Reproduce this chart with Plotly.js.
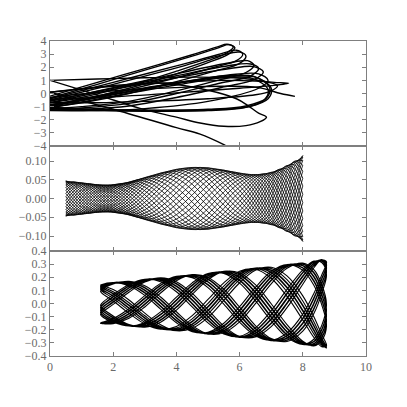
<!DOCTYPE html>
<html>
<head>
<meta charset="utf-8">
<script src="https://cdn.plot.ly/plotly-3.0.1.min.js"></script>
<style>body{margin:0;background:#fff}</style>
</head>
<body>
<div id="plot" style="width:407px;height:407px"></div>
<script>
// top panel: loops, one x list and one y list per loop
const topLoopX = [
    [0, 1.5, 3, 4.5, 5.3, 5.6, 5.8, 5.6, 5, 4, 2.5, 1, 0],
    [0, 1.5, 3, 4.5, 5.35, 5.65, 5.85, 5.65, 5, 4, 2.5, 1, 0],
    [0, 2, 4, 5.3, 5.9, 6.1, 5.9, 5.2, 4, 2.5, 1, 0],
    [0, 2, 4, 5.4, 6.0, 6.2, 6.0, 5.2, 4, 2.5, 1, 0],
    [0, 2, 4, 5.6, 6.25, 6.45, 6.2, 5.3, 4, 2.5, 1, 0],
    [0, 2, 4, 5.6, 6.35, 6.6, 6.35, 5.4, 4, 2.5, 1, 0],
    [0, 2, 4, 5.7, 6.45, 6.75, 6.45, 5.5, 4, 2.5, 1, 0],
    [0, 2, 4, 5.8, 6.6, 6.9, 6.6, 5, 3, 1.5, 0],
    [0, 2, 4, 5.6, 6.5, 7.0, 6.9, 6.3, 5, 3, 1.5, 0],
    [0, 2, 4, 5.6, 6.45, 6.95, 6.85, 6.2, 5, 3, 1.5, 0],
    [0, 2, 4, 5.5, 6.4, 6.9, 6.8, 6.2, 5, 3, 1.5, 0],
    [0, 2, 4, 5.5, 6.5, 7.1, 7.55, 7.0, 6.0, 4, 2, 0],
    [0, 1.5, 3, 4.5, 5.8, 6.6, 7.2, 7.0, 6.5, 5, 3, 1.5, 0],
    [0, 1.5, 2.85, 4.0, 4.75, 5.5, 6.2, 6.65, 6.85, 6.6, 6.25, 5.9, 5.0, 3.5, 2, 0],
    [0, 2, 4, 4.75, 5.55],
    [0, 2, 4, 5.5, 6.6, 7.3, 7.75]
]
const topLoopY = [
    [-0.2, 0.85, 1.9, 2.95, 3.55, 3.75, 3.55, 3.1, 2.5, 1.7, 0.6, -0.3, -0.7],
    [-0.35, 0.7, 1.78, 2.85, 3.5, 3.72, 3.5, 3.0, 2.35, 1.5, 0.4, -0.45, -0.85],
    [-0.4, 0.85, 2.1, 2.95, 3.3, 3.0, 2.5, 2.0, 1.2, 0.3, -0.5, -0.9],
    [-0.5, 0.7, 1.95, 2.9, 3.15, 2.85, 2.3, 1.7, 0.9, 0.0, -0.7, -1.0],
    [-0.6, 0.45, 1.5, 2.3, 2.5, 2.15, 1.6, 1.0, 0.2, -0.6, -1.0, -1.15],
    [-0.55, 0.4, 1.35, 2.1, 2.25, 1.9, 1.35, 0.8, 0.0, -0.75, -1.1, -1.2],
    [-0.7, 0.3, 1.2, 1.9, 2.05, 1.65, 1.05, 0.5, -0.3, -0.95, -1.2, -1.25],
    [-0.9, 0.05, 0.8, 1.45, 1.5, 1.0, 0.4, -0.6, -1.15, -1.3, -1.3],
    [-1.0, -0.1, 0.75, 1.3, 1.25, 0.4, -0.4, -1.0, -1.25, -1.3, -1.25, -1.1],
    [-0.95, -0.05, 0.8, 1.35, 1.3, 0.45, -0.35, -0.95, -1.2, -1.27, -1.22, -1.05],
    [-1.1, -0.2, 0.65, 1.2, 1.15, 0.3, -0.45, -1.05, -1.3, -1.35, -1.3, -1.15],
    [0.1, 0.55, 0.85, 1.0, 0.95, 0.85, 0.78, 0.6, 0.4, 0.05, -0.25, -0.45],
    [1.0, 1.1, 1.2, 1.25, 1.2, 1.0, 0.6, 0.2, -0.1, -0.4, -0.6, -0.7, -0.7],
    [1.0, -0.1, -1.13, -1.8, -2.25, -2.5, -2.45, -2.15, -1.8, -1.5, -0.9, -0.4, 0.25, 0.8, 0.6, 0.1],
    [0.1, -1.2, -2.6, -3.1, -3.95],
    [-0.3, 0.2, 0.45, 0.55, 0.45, 0.0, -0.22]
]

// middle panel: envelope and phase (in units of pi) read at these x positions
const midX = [0.5, 0.75, 1, 1.25, 1.5, 1.75, 2, 2.25, 2.5, 2.75, 3, 3.25, 3.5, 3.75, 4, 4.25,
    4.5, 4.75, 5, 5.25, 5.5, 5.75, 6, 6.25, 6.5, 6.75, 7, 7.25, 7.5, 7.75, 8]
const midAmp = [0.047, 0.0445, 0.042, 0.0395, 0.037, 0.036, 0.037, 0.04, 0.044, 0.05, 0.056, 0.062,
    0.068, 0.073, 0.078, 0.081, 0.083, 0.083, 0.082, 0.079, 0.076, 0.072, 0.068, 0.065, 0.064, 0.066,
    0.07, 0.078, 0.088, 0.1, 0.115]
const midPhase = [0, 0.175, 0.35, 0.525, 0.7, 0.875, 1.05, 1.2, 1.35, 1.48, 1.6, 1.7, 1.8, 1.885,
    1.97, 2.05, 2.13, 2.215, 2.3, 2.39, 2.48, 2.58, 2.68, 2.8, 2.95, 3.12, 3.3, 3.49, 3.68, 3.87, 4.0625]
const midSweeps = 32
const midStart = 0.03125

// bottom panel
const botX = [1.6, 1.65, 2, 2.5, 3, 3.5, 4, 4.5, 5, 5.5, 6, 6.5, 7, 7.5, 8, 8.35, 8.6, 8.75]
const botAmp = [0.152, 0.153, 0.16, 0.172, 0.184, 0.196, 0.208, 0.22, 0.233, 0.245, 0.258, 0.27, 0.283, 0.297, 0.312, 0.325, 0.335, 0.34]
const botPhase = [0, 0.04, 0.17, 0.35, 0.53, 0.71, 0.89, 1.07, 1.25, 1.43, 1.61, 1.79, 1.97, 2.15, 2.34, 2.5, 2.65, 2.8]
const botSweeps = 40
const botStart = 0.1
const botDrift = 0.004

// walk back and forth over the knots, phase keeps running
function sweeps(xs, amp, phase, start, count, drift) {
    const n = xs.length
    const span = phase[n - 1] + drift
    const out = []
    for (let s = 0; s < count; s++) {
        const fwd = s % 2 === 0
        const px = [], py = []
        for (let i = 0; i < n; i++) {
            const k = fwd ? i : n - 1 - i
            const th = (start + s * span + (fwd ? phase[k] : span - phase[k])) * Math.PI
            px.push(xs[k])
            py.push(amp[k] * Math.cos(th))
        }
        out.push({ px, py })
    }
    return out
}

const traces = []
topLoopX.forEach((lx, i) => {
    traces.push({
        x: lx, y: topLoopY[i], xaxis: 'x', yaxis: 'y',
        mode: 'lines', line: { color: '#000', width: 1.4, shape: 'spline' }, hoverinfo: 'skip'
    })
})

sweeps(midX, midAmp, midPhase, midStart, midSweeps, 0).forEach(s => {
    traces.push({
        x: s.px, y: s.py, xaxis: 'x2', yaxis: 'y2',
        mode: 'lines', line: { color: '#000', width: 0.8, shape: 'spline' }, hoverinfo: 'skip'
    })
})

const bx = [], by = []
sweeps(botX, botAmp, botPhase, botStart, botSweeps, botDrift).forEach((s, i) => {
    const from = i === 0 ? 0 : 1
    bx.push(...s.px.slice(from))
    by.push(...s.py.slice(from))
})
traces.push({
    x: bx, y: by, xaxis: 'x3', yaxis: 'y3',
    mode: 'lines', line: { color: '#000', width: 1.1, shape: 'spline' }, hoverinfo: 'skip'
})

const axisStyle = {
    showgrid: false, zeroline: false, showline: true, linecolor: '#7f7f7f', linewidth: 1,
    mirror: 'ticks', ticks: 'inside', ticklen: 4, tickcolor: '#7f7f7f',
    tickfont: { family: 'Liberation Serif, serif', size: 12, color: '#6a6a6a' }
}

Plotly.newPlot(document.getElementById('plot'), traces, {
    width: 407, height: 407,
    margin: { l: 50, r: 41, t: 41, b: 51 },
    showlegend: false,
    paper_bgcolor: '#fff', plot_bgcolor: '#fff',
    xaxis: { ...axisStyle, anchor: 'y', range: [0, 10], dtick: 2, showticklabels: false },
    xaxis2: { ...axisStyle, anchor: 'y2', range: [0, 10], dtick: 2, showticklabels: false },
    xaxis3: { ...axisStyle, anchor: 'y3', range: [0, 10], dtick: 2 },
    yaxis: { ...axisStyle, anchor: 'x', domain: [2 / 3, 1], range: [-4, 4], dtick: 1 },
    yaxis2: { ...axisStyle, anchor: 'x2', domain: [1 / 3, 2 / 3], range: [-0.14, 0.14],
        tickvals: [-0.1, -0.05, 0, 0.05, 0.1], tickformat: '.2f' },
    yaxis3: { ...axisStyle, anchor: 'x3', domain: [0, 1 / 3], range: [-0.4, 0.4],
        dtick: 0.1, tickformat: '.1f' }
}, { staticPlot: true })
</script>
</body>
</html>
